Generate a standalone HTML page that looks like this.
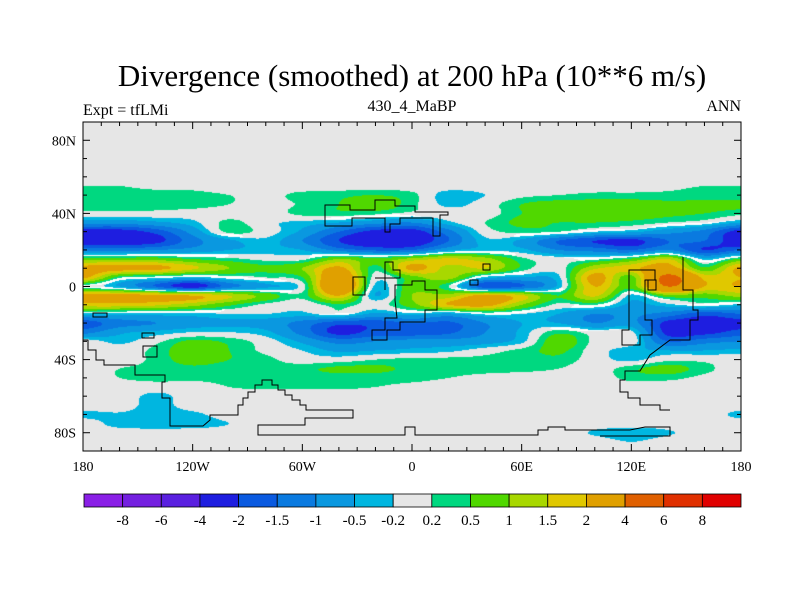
<!DOCTYPE html>
<html><head><meta charset="utf-8"><style>
html,body{margin:0;padding:0;background:#fff;}
#wrap{position:relative;width:800px;height:600px;overflow:hidden;font-family:"Liberation Serif",serif;}
.t{position:absolute;white-space:nowrap;color:#000;}
</style></head><body>
<div id="wrap">
<div class="t" style="left:0;width:824px;text-align:center;top:58px;font-size:31px;">Divergence (smoothed) at 200 hPa (10**6 m/s)</div>
<div class="t" style="left:83px;top:102px;font-size:16px;">Expt = tfLMi</div>
<div class="t" style="left:312px;width:200px;text-align:center;top:98px;font-size:16px;">430_4_MaBP</div>
<div class="t" style="left:641px;width:100px;text-align:right;top:98px;font-size:16px;">ANN</div>
<canvas id="map" width="658" height="329" style="position:absolute;left:83px;top:122px;"></canvas>
<svg id="ov" width="800" height="600" style="position:absolute;left:0;top:0;"></svg>
</div>
<script>
const lons=[-180,-160,-140,-120,-100,-80,-60,-40,-20,0,20,40,60,80,100,120,140,160,180];
const lats=[90,85,80,75,70,65,60,55,50,45,40,35,30,25,20,15,10,5,0,-5,-10,-15,-20,-25,-30,-35,-40,-45,-50,-55,-60,-65,-70,-75,-80,-85,-90];
const Z=[0,0,0,0,0,0,0,0,0,0,0,0,0,0,0,0,0,0,0];
const divRows=[
Z,Z,Z,Z,Z,Z,Z,
[0.2,0.2,0.1,0.1,0,0,0,0,0,0,0,0,0,0,0,0,0.1,0.2,0.2],
[0.35,0.35,0.35,0.3,0.2,0.1,0.3,0.4,0.5,0.3,-0.4,-0.2,0.1,0.2,0.3,0.3,0.3,0.35,0.35],
[0.4,0.45,0.4,0.35,0.2,0.05,0.25,0.5,0.8,0.3,-0.3,0,0.5,0.7,0.7,0.7,0.6,0.6,0.6],
[0.05,0.05,0.05,0,0,0,0.3,0.4,0.3,0.1,0,0,0.5,0.7,0.7,0.7,0.6,0.5,0.3],
[-0.8,-0.8,-0.6,-0.3,0.3,-0.1,-0.3,-0.5,-0.8,-1.0,-0.3,0.2,0.6,0.5,0.5,0.4,0.2,0,-0.5],
[-2.3,-2.3,-1.8,-0.8,0.3,0,-0.6,-1.5,-2.2,-2.3,-1.2,0,0.3,0.2,-0.2,-0.4,-0.8,-1.2,-2.3],
[-2.5,-2.5,-2.2,-1.2,-0.6,-0.3,-1.0,-2.0,-2.5,-2.5,-1.5,-0.3,-0.6,-1.5,-2.0,-2.2,-1.5,-1.5,-2.5],
[-1.2,-1.2,-1.0,-0.8,-0.5,-0.4,-0.5,-1.2,-1.6,-1.5,-0.6,-0.3,-0.4,-1.0,-1.2,-1.5,-1.0,-2.0,-1.5],
[0.8,0.8,0.8,0.5,0.3,0.1,0.1,1.0,0.6,1.2,1.6,1.2,0.3,0,0.1,0.6,1.5,-0.3,0.6],
[2.3,2.3,2.2,1.6,1.0,0.6,1.0,2.2,0.3,2.2,1.3,1.5,0.4,0,1.4,1.8,2.5,0.6,2.2],
[2.2,0.3,0,-0.3,0,0.2,0.5,3.0,0,0.8,1.2,-0.3,-0.5,-0.3,2.3,0.8,4.5,1.8,2.0],
[0.1,-0.5,-1.5,-2.3,-1.2,-0.6,0,3.5,-0.3,0.8,0.2,-1.8,-1.5,-0.4,2.0,0.7,4.0,2.0,2.0],
[2.3,2.3,2.2,2.0,1.5,0.8,0.3,2.0,-0.5,1.0,1.2,2.3,1.6,0.5,1.6,-0.3,0.8,0.7,1.2],
[1.8,1.8,1.6,1.2,0.6,0.1,-0.1,0.4,0,0.8,2.0,2.3,1.0,0.1,0.2,-0.6,-0.3,0,-0.3],
[-0.3,-0.3,-0.3,-0.3,-0.2,-0.2,-0.3,0,-0.6,-0.3,-0.6,-0.1,-0.2,-0.5,-1.0,-0.9,-1.2,-1.8,-1.5],
[-1.8,-1.2,-1.0,-0.7,-0.6,-0.7,-1.2,-1.8,-1.8,-1.5,-1.6,-1.0,-0.5,-0.5,-1.0,-0.8,-2.2,-2.3,-2.2],
[-1.2,-0.6,-0.4,-0.2,-0.2,-0.4,-1.2,-2.2,-1.8,-1.8,-1.6,-1.0,-0.4,0.4,0,-0.1,-2.2,-2.2,-1.8],
[0,-0.3,0.1,0.6,0.4,0,-0.6,-1.2,-1.0,-0.8,-0.8,-0.7,-0.3,0.8,0.1,0,-1.5,-1.2,-1.0],
[0,0,0.3,0.8,0.5,0.1,-0.2,-0.6,-0.5,-0.4,-0.3,0,0.3,0.6,0,-0.4,-0.5,-0.5,-0.4],
[0,0,0.3,0.7,0.5,0.3,0,0,0.2,0.3,0.3,0.3,0.3,0.4,0,-0.3,0.1,0.1,0],
[0,0.2,0.3,0.4,0.3,0.3,0.4,0.6,0.6,0.4,0.3,0.3,0.3,0.2,0,0.4,0.7,0.3,0],
[0,0.2,0.3,0.3,0.3,0.3,0.3,0.3,0.3,0.3,0.2,0.1,0,0,0,0.3,0.3,0.1,0],
[0,0,0,0,0.2,0.25,0.25,0.25,0.2,0.1,0,0,0,0,0,0,0,0,0],
[0,0,-0.3,0,0,0,0,0,0,0,0,0,0,0,0,0,0,0,0],
[0,0,-0.35,0,0,0,0,0,0,0,0,0,0,0,0,0,0,0,0],
[-0.3,-0.25,-0.4,-0.3,0,0,0,0,0,0,0,0,0,0,0,0,0,0,-0.3],
[0,-0.35,-0.45,-0.4,-0.2,0,0,0,0,0,0,0,0,0,0,0,0,0,0],
[0,0,0,0,0,0,0,0,0,0,0,0,0,0,-0.25,-0.45,-0.25,0,0],
[0,0,0,0,0,0,0,0,0,0,0,0,0,0,0,-0.2,0,0,0],
Z];
const levels=[-8,-6,-4,-2,-1.5,-1,-0.5,-0.2,0.2,0.5,1,1.5,2,4,6,8];
const levelLabels=["-8","-6","-4","-2","-1.5","-1","-0.5","-0.2","0.2","0.5","1","1.5","2","4","6","8"];
const colors=["#8a1fe6","#7420e0","#5a20e0","#1e1ee0","#0a5ae0","#0a7ae0","#0a98e0","#00b6e0","#e6e6e6","#00d880","#50d800","#a8d800","#e0c800","#e0a000","#e06000","#e03000","#e00000"];
const lonTicks=[-180,-120,-60,0,60,120,180];
const lonTickLabels=["180","120W","60W","0","60E","120E","180"];
const latTicks=[80,40,0,-40,-80];
const latTickLabels=["80N","40N","0","40S","80S"];

const X0=83,X1=741,Y0=122,Y1=451;
const xOf=l=>X0+(l+180)/360*(X1-X0);
const yOf=l=>Y0+(90-l)/180*(Y1-Y0);
function cr(p0,p1,p2,p3,t){return 0.5*((2*p1)+(-p0+p2)*t+(2*p0-5*p1+4*p2-p3)*t*t+(-p0+3*p1-3*p2+p3)*t*t*t);}
function val(lon,lat){
  const fi=(lon+180)/20, fj=(90-lat)/5;
  const i=Math.min(Math.floor(fi),lons.length-2), j=Math.min(Math.floor(fj),lats.length-2);
  const tx=fi-i, ty=fj-j;
  const g=(a,b)=>divRows[Math.max(0,Math.min(lats.length-1,b))][Math.max(0,Math.min(lons.length-1,a))];
  const r=[];
  for(let k=-1;k<3;k++)r.push(cr(g(i-1,j+k),g(i,j+k),g(i+1,j+k),g(i+2,j+k),tx));
  return cr(r[0],r[1],r[2],r[3],ty);
}
function colorIdx(v){let k=0;while(k<levels.length&&v>=levels[k])k++;return k;}
const cv=document.getElementById('map');const ctx=cv.getContext('2d');
const W=cv.width,H=cv.height;const F=new Float32Array(W*H);
for(let y=0;y<H;y++)for(let x=0;x<W;x++){F[y*W+x]=val(-180+(x+0.5)/W*360,90-(y+0.5)/H*180);}
const img=ctx.createImageData(W,H);const rgb=colors.map(c=>[parseInt(c.slice(1,3),16),parseInt(c.slice(3,5),16),parseInt(c.slice(5,7),16)]);
for(let y=0;y<H;y++)for(let x=0;x<W;x++){
  const v=F[y*W+x];let c=rgb[colorIdx(v)];
  if(Math.abs(v)<0.2){
    const xa=Math.max(0,x-1),xb=Math.min(W-1,x+1),ya=Math.max(0,y-1),yb=Math.min(H-1,y+1);
    const gx=(F[y*W+xb]-F[y*W+xa])/2,gy=(F[yb*W+x]-F[ya*W+x])/2;
    if(Math.sqrt(gx*gx+gy*gy)>0.1)c=[255,255,255];
  }
  const o=(y*W+x)*4;img.data[o]=c[0];img.data[o+1]=c[1];img.data[o+2]=c[2];img.data[o+3]=255;
}
ctx.putImageData(img,0,0);

const NS='http://www.w3.org/2000/svg';const svg=document.getElementById('ov');
function mk(tag,attrs,parent){const e=document.createElementNS(NS,tag);for(const k in attrs)e.setAttribute(k,attrs[k]);(parent||svg).appendChild(e);return e;}
const coasts=[
"M83,340 L88,340 L88,350 L96,350 L96,360 L104,360 L104,365 L135,365 L135,375 L165,375 L165,382 L162,382 L162,398 L170,398 L170,426 L203,426 L210,420 L210,415 L238,415 L238,405 L243,405 L243,398 L248,398 L248,392 L255,392 L255,385 L262,385 L262,380 L272,380 L272,385 L278,385 L278,390 L285,390 L285,395 L292,395 L292,400 L300,400 L300,405 L306,405 L306,410 L353,410 L353,418 L305,418 L305,425 L258,425 L258,435 L405,435 L405,427 L415,427 L415,435 L538,435 L538,430 L548,430 L548,427 L565,427 L565,430 L630,430 L645,427 L670,427 L670,436 L600,436",
"M143,346 L157,346 L157,357 L143,357 Z",
"M142,333 L154,333 L154,338 L142,338 Z",
"M93,313 L107,313 L107,317 L93,317 Z",
"M325,226 L325,205 L350,205 L350,210 L375,210 L375,200 L395,200 L395,206 L415,206 L415,212 L448,212 L448,215 L440,215 L440,236 L433,236 L433,218 L400,218 L400,224 L390,224 L390,232 L385,232 L385,218 L352,218 L352,226 Z",
"M353,295 L353,277 L365,277 L365,295 Z",
"M385,290 L385,262 L393,262 L393,270 L400,270 L400,278 L375,278",
"M395,300 L395,285 L412,285 L412,281 L425,281 L425,290 L437,290 L437,310 L425,310 L425,322 L400,322 L400,330 L387,330 L387,340 L372,340 L372,330 L385,330 L385,318 L397,318 Z",
"M629,270 L629,330 L622,330 L622,345 L640,345 L640,335 L652,335 L652,320 L645,320 L645,280 L655,280 L655,270 Z",
"M683,257 L683,290 L693,290 L693,310 L698,310 L698,320 L690,320 L690,340 L670,340 L650,355 L640,371 L625,371 L625,380 L620,380 L620,392 L628,392 L628,398 L640,398 L640,405 L660,405 L660,410 L670,410",
"M648,280 L656,280 L656,290 L648,290 Z",
"M483,264 L490,264 L490,270 L483,270 Z",
"M470,280 L478,280 L478,285 L470,285 Z"
];
coasts.forEach(d=>{const p=mk('path',{d:d,fill:'none',stroke:'#000','stroke-width':'1'});

});
const fr=mk('rect',{x:X0,y:Y0,width:X1-X0,height:Y1-Y0,fill:'none',stroke:'#000','stroke-width':'1'});


for(let l=-180;l<=180;l+=10){const x=xOf(l);const maj=(l%60===0);const len=maj?7:4;
 mk('line',{x1:x,y1:Y0,x2:x,y2:Y0+len,stroke:'#000'});mk('line',{x1:x,y1:Y1,x2:x,y2:Y1-len,stroke:'#000'});}
for(let l=-90;l<=90;l+=10){const y=yOf(l);const maj=(Math.abs(l)%40===0);const len=maj?7:4;
 mk('line',{x1:X0,y1:y,x2:X0+len,y2:y,stroke:'#000'});mk('line',{x1:X1,y1:y,x2:X1-len,y2:y,stroke:'#000'});}
lonTicks.forEach((l,i)=>{const t=mk('text',{x:xOf(l),y:471,'text-anchor':'middle','font-size':'14','font-family':'Liberation Serif, serif'});t.textContent=lonTickLabels[i];

});
latTicks.forEach((l,i)=>{const t=mk('text',{x:76,y:yOf(l)+5,'text-anchor':'end','font-size':'14','font-family':'Liberation Serif, serif'});t.textContent=latTickLabels[i];

});
const cbX0=84,cbX1=741,cbY=494,cbH=13,bw=(cbX1-cbX0)/colors.length;
colors.forEach((c,i)=>{const r=mk('rect',{x:cbX0+i*bw,y:cbY,width:bw,height:cbH,fill:c,stroke:'#000','stroke-width':'0.8'});

});
levelLabels.forEach((s,i)=>{const t=mk('text',{x:cbX0+(i+1)*bw,y:525,'text-anchor':'middle','font-size':'15','font-family':'Liberation Serif, serif'});t.textContent=s;

});
</script>
</body></html>
